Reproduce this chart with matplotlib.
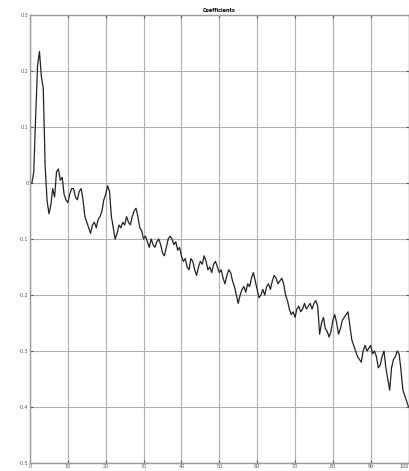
import numpy as np
import matplotlib
matplotlib.use("Agg")
import matplotlib.pyplot as plt

title = "Coefficients"
xticks = [0, 10, 20, 30, 40, 50, 60, 70, 80, 90, 100]
yticks = [0.3, 0.2, 0.1, 0, -0.1, -0.2, -0.3, -0.4, -0.5]
ytick_labels = ["0.3", "0.2", "0.1", "0", "-0.1", "-0.2", "-0.3", "-0.4", "-0.5"]

# sample index (step 0.5)
n = np.arange(0, 100.5, 0.5)
values = [
    0.0, 0.0, 0.02, 0.12, 0.21, 0.235, 0.19, 0.17, 0.03, -0.03,
    -0.055, -0.04, -0.01, -0.025, 0.02, 0.025, 0.005, 0.01, -0.02, -0.03,
    -0.035, -0.02, -0.01, -0.01, -0.025, -0.03, -0.015, -0.01, -0.03, -0.06,
    -0.07, -0.08, -0.09, -0.075, -0.07, -0.08, -0.065, -0.06, -0.05, -0.03,
    -0.02, -0.005, -0.015, -0.06, -0.08, -0.1, -0.09, -0.075, -0.08, -0.07,
    -0.075, -0.06, -0.07, -0.075, -0.06, -0.05, -0.045, -0.06, -0.08, -0.085,
    -0.1, -0.095, -0.105, -0.115, -0.1, -0.11, -0.115, -0.105, -0.1, -0.11,
    -0.125, -0.13, -0.115, -0.1, -0.095, -0.1, -0.11, -0.105, -0.12, -0.115,
    -0.13, -0.14, -0.135, -0.15, -0.155, -0.135, -0.14, -0.155, -0.165, -0.15,
    -0.14, -0.145, -0.13, -0.14, -0.155, -0.15, -0.16, -0.145, -0.14, -0.15,
    -0.16, -0.155, -0.17, -0.18, -0.165, -0.155, -0.16, -0.175, -0.185, -0.2,
    -0.215, -0.2, -0.19, -0.185, -0.195, -0.18, -0.185, -0.17, -0.16, -0.175,
    -0.19, -0.205, -0.2, -0.19, -0.2, -0.185, -0.18, -0.19, -0.175, -0.165,
    -0.17, -0.18, -0.175, -0.17, -0.18, -0.2, -0.21, -0.225, -0.235, -0.23,
    -0.24, -0.225, -0.22, -0.23, -0.225, -0.215, -0.225, -0.22, -0.215, -0.225,
    -0.215, -0.21, -0.22, -0.27, -0.25, -0.24, -0.26, -0.265, -0.275, -0.265,
    -0.245, -0.235, -0.25, -0.27, -0.26, -0.245, -0.24, -0.235, -0.23, -0.255,
    -0.28, -0.29, -0.3, -0.31, -0.315, -0.32, -0.3, -0.29, -0.3, -0.295,
    -0.29, -0.305, -0.3, -0.31, -0.33, -0.325, -0.31, -0.3, -0.33, -0.35,
    -0.37, -0.33, -0.315, -0.31, -0.3, -0.305, -0.335, -0.37, -0.38, -0.39,
    -0.4,
]

fig = plt.figure(figsize=(4.09, 4.71), dpi=100)
ax = fig.add_axes([30 / 409, 8 / 471, 379 / 409 - 0.001, 448 / 471])
ax.plot(n[:len(values)], values, color="#222222", lw=0.9)
ax.set_xlim(0, 100)
ax.set_ylim(-0.5, 0.3)
ax.set_xticks(xticks)
ax.set_xticklabels([str(t) for t in xticks])
ax.set_yticks(yticks)
ax.set_yticklabels(ytick_labels)
ax.grid(True, color="#b0b0b0", lw=0.8)
ax.tick_params(direction="in", length=2, labelsize=3.5, colors="#555555",
               top=True, right=True, pad=1)
ax.get_xticklabels()[-1].set_horizontalalignment("right")
for s in ax.spines.values():
    s.set_color("#999999")
    s.set_linewidth(1.0)
ax.set_title(title, fontsize=3.5, fontweight="bold", pad=2)
fig.savefig("out.png", dpi=100)
